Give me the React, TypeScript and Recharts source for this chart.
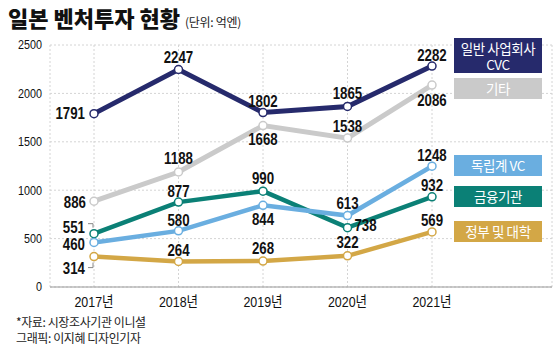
import { LineChart, Line, XAxis, YAxis, CartesianGrid, LabelList } from 'recharts'

const years = ['2017년', '2018년', '2019년', '2020년', '2021년']
const cvc = [1791, 2247, 1802, 1865, 2282]
const etc = [886, 1188, 1668, 1538, 2086]
const independentVc = [460, 580, 844, 738, 1248]
const finance = [551, 877, 990, 613, 932]
const govUniv = [314, 264, 268, 322, 569]
const yTicks = [0, 500, 1000, 1500, 2000, 2500]

const data = years.map((year, i) => ({
  year,
  cvc: cvc[i],
  etc: etc[i],
  independentVc: independentVc[i],
  finance: finance[i],
  govUniv: govUniv[i],
}))

const COLORS = {
  cvc: '#262a6c',
  etc: '#cacaca',
  independentVc: '#6aaee0',
  finance: '#0b8076',
  govUniv: '#d3a746',
}

// label placement per point: [dx, dy, anchor]
type Place = [number, number, 'start' | 'middle' | 'end']
const PLACES: Record<string, Place[]> = {
  cvc: [[-9, 0, 'end'], [0, -12, 'middle'], [0, -11, 'middle'], [0, -13, 'middle'], [0, -11, 'middle']],
  etc: [[-8, 1, 'end'], [0, -13, 'middle'], [0, 14, 'middle'], [0, -12, 'middle'], [0, 15, 'middle']],
  independentVc: [[-9, 2, 'end'], [0, -10, 'middle'], [0, 14, 'middle'], [18, 10, 'middle'], [0, -11, 'middle']],
  finance: [[-9, -6, 'end'], [0, -11, 'middle'], [0, -13, 'middle'], [0, -24, 'middle'], [0, -11, 'middle']],
  govUniv: [[-9, 12, 'end'], [0, -11, 'middle'], [0, -12, 'middle'], [0, -13, 'middle'], [0, -11, 'middle']],
}

const NUM_FONT = "'Liberation Sans', Arial, 'Noto Sans CJK KR', sans-serif"
const KR_FONT = "'Noto Sans CJK KR', sans-serif"

// squeezed text, mimics a condensed face
const Narrow = ({ x, y, anchor, size, bold, children }: any) => (
  <text
    transform={`translate(${x},${y}) scale(0.83,1)`}
    textAnchor={anchor}
    dominantBaseline="central"
    fontFamily={NUM_FONT}
    fontWeight={bold ? 'bold' : 'normal'}
    fontSize={size}
    fill="#111"
  >
    {children}
  </text>
)

const makeLabel = (key: string) => (props: any) => {
  const { x, y, value, index } = props
  const [dx, dy, anchor] = PLACES[key][index]
  return (
    <g>
      {key === 'finance' && index === 0 && (
        <path d={`M${x - 6},${y - 10} H${x - 1} V${y - 6}`} stroke="#888" fill="none" strokeWidth={1} />
      )}
      {key === 'govUniv' && index === 0 && (
        <path d={`M${x - 6},${y + 11} H${x - 1} V${y + 6}`} stroke="#888" fill="none" strokeWidth={1} />
      )}
      <Narrow x={x + dx} y={y + dy} anchor={anchor} size={16} bold>
        {value}
      </Narrow>
    </g>
  )
}

const YTick = ({ x, y, payload }: any) => (
  <Narrow x={x} y={y} anchor="end" size={13}>
    {payload.value}
  </Narrow>
)

const XTick = ({ x, y, payload }: any) => (
  <Narrow x={x} y={y + 9} anchor="middle" size={15}>
    {payload.value}
  </Narrow>
)

const LEGEND = [
  { lines: ['일반 사업회사', 'CVC'], color: COLORS.cvc, top: 38, height: 35 },
  { lines: ['기타'], color: COLORS.etc, top: 78, height: 21 },
  { lines: ['독립계 VC'], color: COLORS.independentVc, top: 155, height: 21 },
  { lines: ['금융기관'], color: COLORS.finance, top: 186, height: 21 },
  { lines: ['정부 및 대학'], color: COLORS.govUniv, top: 221, height: 21 },
]

const SERIES: (keyof typeof COLORS)[] = ['govUniv', 'finance', 'independentVc', 'etc', 'cvc']

export default function App() {
  return (
    <div style={{ position: 'absolute', left: 0, top: 0, width: 560, height: 349, background: '#fff' }}>
      <div style={{ position: 'absolute', left: 8, top: 2, whiteSpace: 'nowrap', fontFamily: KR_FONT, lineHeight: '30px' }}>
        <span style={{ fontSize: 22, fontWeight: 900, color: '#111' }}>일본 벤처투자 현황</span>
        <span style={{ fontSize: 12, marginLeft: 5, color: '#222', letterSpacing: -0.3 }}>(단위: 억엔)</span>
      </div>

      <div style={{ position: 'absolute', left: 0, top: 0 }}>
        <LineChart width={560} height={349} data={data} margin={{ top: 45, right: 8, bottom: 32, left: 0 }}>
          <CartesianGrid stroke="#d4d4d4" strokeDasharray="2 2" />
          <XAxis
            dataKey="year"
            padding={{ left: 44, right: 120 }}
            height={30}
            axisLine={{ stroke: '#999', strokeWidth: 1 }}
            tickLine={false}
            tickMargin={0}
            tick={<XTick />}
          />
          <YAxis
            width={50}
            domain={[0, 2500]}
            ticks={yTicks}
            axisLine={false}
            tickLine={false}
            tick={<YTick />}
          />
          {SERIES.map(key => (
            <Line
              key={key}
              dataKey={key}
              stroke={COLORS[key]}
              strokeWidth={key === 'cvc' || key === 'etc' ? 5 : 4.5}
              dot={{ r: 4, fill: '#fff', stroke: COLORS[key], strokeWidth: 1.5 }}
              activeDot={false}
              isAnimationActive={false}
            >
              <LabelList dataKey={key} content={makeLabel(key)} />
            </Line>
          ))}
        </LineChart>
      </div>

      {LEGEND.map(item => (
        <div
          key={item.lines[0]}
          style={{
            position: 'absolute',
            left: 454,
            top: item.top,
            width: 88,
            height: item.height,
            background: item.color,
            color: '#fff',
            fontFamily: KR_FONT,
            fontSize: 13.5,
            letterSpacing: -0.4,
            lineHeight: item.lines.length > 1 ? '16px' : `${item.height}px`,
            paddingTop: item.lines.length > 1 ? 2 : 0,
            boxSizing: 'border-box',
            textAlign: 'center',
            whiteSpace: 'pre',
          }}
        >
          {item.lines.join('\n')}
        </div>
      ))}

      <div style={{ position: 'absolute', left: 16, top: 314, fontFamily: KR_FONT, fontSize: 12, color: '#222', lineHeight: '16px', letterSpacing: -0.4 }}>
        <div>*자료: 시장조사기관 이니셜</div>
        <div>그래픽: 이지혜 디자인기자</div>
      </div>
    </div>
  )
}
